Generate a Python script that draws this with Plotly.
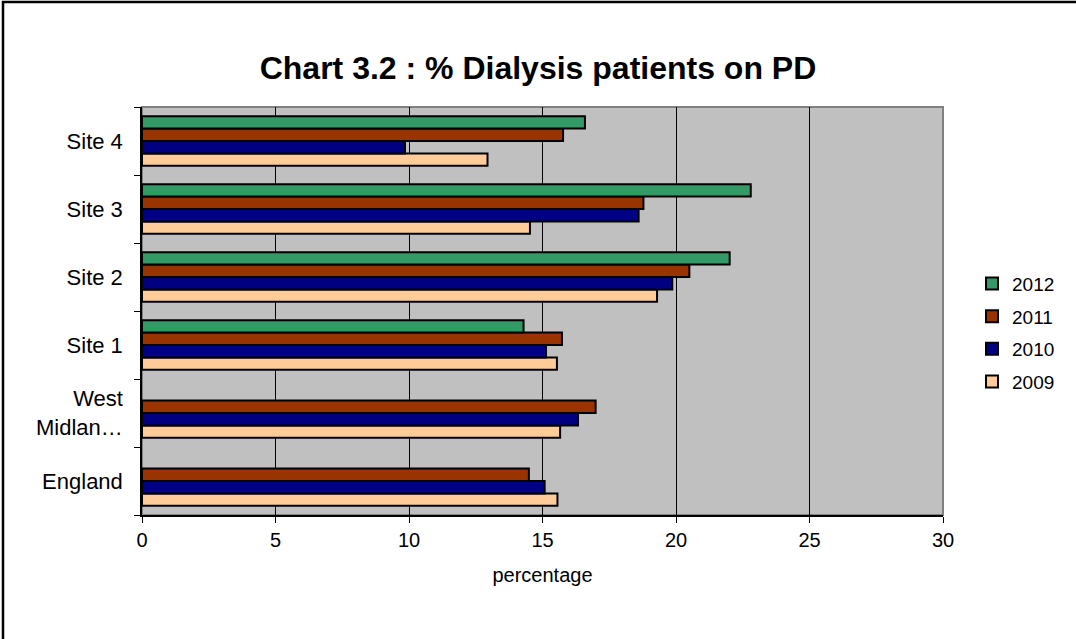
import plotly.graph_objects as go

categories = ["England", "West<br>Midlan…", "Site 1", "Site 2", "Site 3", "Site 4"]
years = ["2009", "2010", "2011", "2012"]
v2009 = [15.56, 15.66, 15.54, 19.29, 14.53, 12.94]
v2010 = [15.08, 16.33, 15.13, 19.86, 18.60, 9.85]
v2011 = [14.49, 16.99, 15.73, 20.50, 18.78, 15.77]
v2012 = [None, None, 14.29, 22.01, 22.80, 16.59]
colors = ["#FFCC99", "#000080", "#993300", "#339966"]

series = [v2009, v2010, v2011, v2012]

fig = go.Figure()
for i, (name, vals, col) in enumerate(zip(years, series, colors)):
    fig.add_trace(go.Bar(
        y=categories, x=vals, name=name, orientation="h", legendgroup=name,
        legendrank=100 - i,
        marker=dict(color=col, line=dict(color="black", width=2)),
    ))

W, H = 1076, 639
L, R, T, B = 142, 133, 107, 124
pw, ph = W - L - R, H - T - B

fig.update_layout(
    width=W, height=H,
    margin=dict(l=L, r=R, t=T, b=B),
    barmode="group", bargap=0.27, bargroupgap=0,
    paper_bgcolor="white", plot_bgcolor="#C0C0C0",
    font=dict(family="Liberation Sans, Arial, sans-serif", color="black", size=20),
    title=dict(text="<b>Chart 3.2 : % Dialysis patients on PD</b>",
               x=0.5, xanchor="center", y=1 - 68 / H, yanchor="middle",
               font=dict(size=32, color="black")),
    legend=dict(x=(972 - L) / pw, xanchor="left", y=0.447, yanchor="middle",
                traceorder="grouped", font=dict(size=19),
                itemwidth=30, tracegroupgap=5, bgcolor="rgba(0,0,0,0)"),
    showlegend=True,
)
fig.update_xaxes(range=[0, 30], dtick=5, showgrid=True, gridcolor="black", gridwidth=1,
                 showline=True, linecolor="black", linewidth=1.5, ticks="outside",
                 ticklen=6, tickcolor="black", zeroline=False, tickfont=dict(size=20),
                 title=dict(text="percentage", font=dict(size=20), standoff=18),
                 mirror=False)
fig.update_yaxes(type="category", tickson="boundaries", showgrid=False,
                 showline=True, linecolor="black", linewidth=1.5, ticks="outside",
                 ticklen=6, tickcolor="black", ticklabelstandoff=13,
                 tickfont=dict(size=22))
# plot-area border (grey)
fig.add_shape(type="rect", xref="paper", yref="paper", x0=0, x1=1, y0=0, y1=1,
              line=dict(color="#808080", width=2), layer="below")
# chart border
fig.add_shape(type="rect", xref="paper", yref="paper",
              x0=(3 - L) / pw, x1=(W + 5 - L) / pw,
              y0=(-(B + 5)) / ph, y1=1 + (T - 2) / ph,
              line=dict(color="black", width=2.5))
fig.write_html("out.html", config={"displayModeBar": False},
               post_script="document.body.style.margin='0';")
